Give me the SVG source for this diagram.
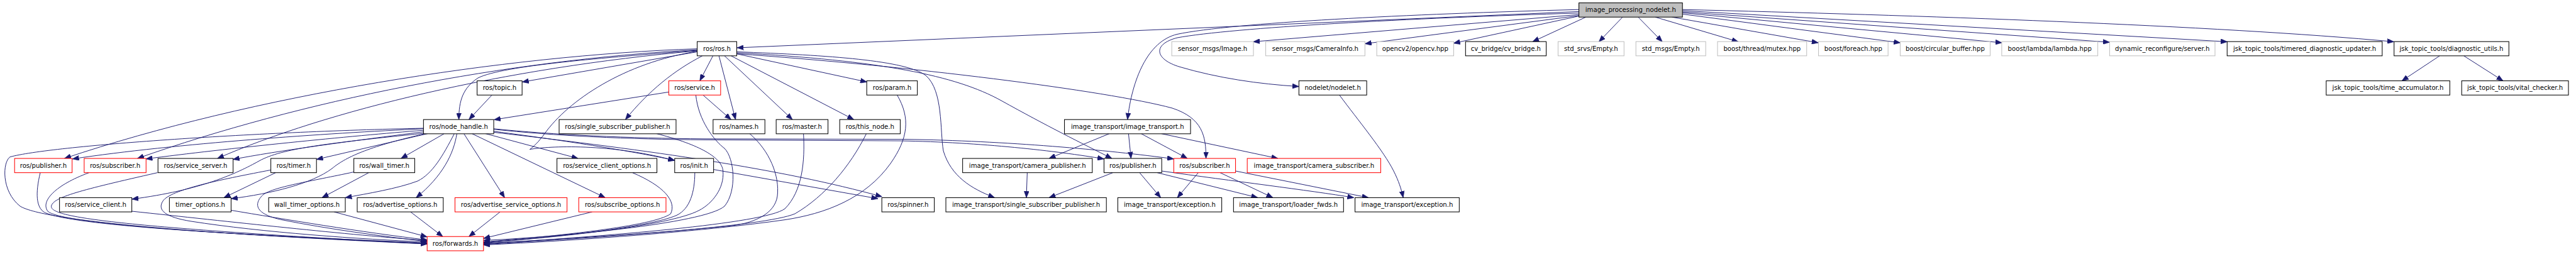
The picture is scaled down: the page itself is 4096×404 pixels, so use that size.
<svg xmlns="http://www.w3.org/2000/svg" width="4096" height="404" viewBox="0 0 4096 404">
<style>
.n rect{fill:#fff;stroke:#000;stroke-width:1.3}
.g rect{stroke:#bfbfbf}
.r rect{stroke:#ff0000}
.root rect{fill:#bfbfbf}
.n text{font-family:"DejaVu Sans",sans-serif;font-size:12.67px;text-anchor:middle;fill:#000}
.e path{fill:none;stroke:#191970;stroke-width:1.2;marker-end:url(#a)}
</style>
<defs>
<marker id="a" markerUnits="userSpaceOnUse" viewBox="0 0 13 10" markerWidth="13" markerHeight="10" refX="13" refY="5" orient="auto">
<path d="M0,0 L13,5 L0,10 z" fill="#191970" stroke="#191970" stroke-width="0.8"/>
</marker>
</defs>
<rect width="4096" height="404" fill="#fff"/>
<g transform="scale(0.8)">
<g id="edges" class="e">
<path d="M3138,23 L1465,95"/>
<path d="M3138,29 L2491,83"/>
<path d="M3138,31 L2713,87"/>
<path d="M3138,32 L2889,86"/>
<path d="M3152,34 L3046,83"/>
<path d="M3225,34 L3178,83"/>
<path d="M3256,34 L3304,83"/>
<path d="M3290,34 L3455,83"/>
<path d="M3323,34 L3614,85"/>
<path d="M3344,28 L3777,85"/>
<path d="M3344,25.5 L3979,85"/>
<path d="M3344,23.6 L4193,84"/>
<path d="M3344,21.2 L4427,83"/>
<path d="M3344,19 C3800,30 4400,50 4758,83"/>
<path d="M3138,19 C2800,28 2450,45 2340,68 C2280,82 2250,160 2241,237.7"/>
<path d="M3138,26 C2800,36 2450,55 2340,75 C2290,88 2295,118 2345,133 C2420,155 2500,167 2581.7,172"/>
<path d="M1386,97 C1000,110 500,190 128,315"/>
<path d="M1386,99 C1000,120 600,200 273,315"/>
<path d="M1386,101 C1000,135 650,220 432,315"/>
<path d="M1386,103 L1038,163"/>
<path d="M1386,100 C1200,115 1000,130 950,155 C920,175 912,200 912,237.7"/>
<path d="M1417,111 L1391,160.7"/>
<path d="M1396,111 C1340,140 1290,180 1243,237.7"/>
<path d="M1429,111 L1462,237.7"/>
<path d="M1440,111 L1575,237.7"/>
<path d="M1453,111 L1697,237.7"/>
<path d="M1464,107 L1723,163"/>
<path d="M1386,102 C1240,125 1130,200 1083,265 C1070,283 1060,292 1053,297 C1080,292 1200,282 1341,319"/>
<path d="M1464,105 C1750,120 1900,150 1990,200 C2080,250 2150,285 2210,315"/>
<path d="M1464,107 C1800,130 2200,180 2330,215 C2390,235 2397,270 2397,315"/>
<path d="M1464,103 C1650,110 1800,120 1840,150 C1875,180 1868,260 1875,300 C1890,350 1930,375 1977,393"/>
<path d="M1329,183 L982,238"/>
<path d="M1397,188.7 L1453,237.7"/>
<path d="M1383,188.7 C1388,240 1420,280 1440,295 C1460,315 1465,380 1440,410 C1400,445 1100,472 961,478"/>
<path d="M978,188.7 L932,237.7"/>
<path d="M842,256 C650,265 350,285 144,316"/>
<path d="M842,259 C700,270 450,295 290,316"/>
<path d="M842,262 C700,280 550,300 463,317"/>
<path d="M850,265.7 L629,317"/>
<path d="M883,265.7 L797,315"/>
<path d="M842,265 C650,285 560,295 515,320 C470,345 400,378 262,396"/>
<path d="M845,265.7 C740,290 690,310 660,335 C620,365 540,385 459.3,395"/>
<path d="M903,265.7 C880,310 860,345 830,360 C790,375 730,385 686.3,393"/>
<path d="M908,265.7 C902,305 880,350 827,393"/>
<path d="M922,265.7 L1003,393"/>
<path d="M938,265.7 L1203,393"/>
<path d="M965,265.7 L1149,315"/>
<path d="M981,261 C1150,283 1280,305 1341,319"/>
<path d="M981,263 C1300,300 1550,335 1753,391"/>
<path d="M981,257 C1100,270 1250,277 1400,278 L1790,280 C1950,283 2100,300 2194.3,316"/>
<path d="M981,256 C1100,268 1250,275 1400,276 L1800,277 C2000,280 2200,298 2333,316"/>
<path d="M842,255 C500,262 100,290 20,312 C5,322 2,380 40,410 C90,440 400,465 849,485"/>
<path d="M548,343.3 L445,393"/>
<path d="M538,338 C450,355 345,375 325,398 C310,418 330,432 380,440 C520,462 720,476 849,481"/>
<path d="M733,343.3 L640,393"/>
<path d="M703,342 C620,360 540,372 522,388 C505,405 505,425 560,437 C650,455 760,470 849,480"/>
<path d="M80,343.3 C70,385 72,412 88,422 C140,448 450,466 849,483"/>
<path d="M177,343.3 C110,368 80,400 95,420 C120,445 450,467 849,484"/>
<path d="M313,343.3 C160,378 105,392 102,410 C100,430 200,450 849,485"/>
<path d="M262,420 C450,440 700,468 849,478"/>
<path d="M459,418 C560,435 720,462 849,477"/>
<path d="M664,421.3 L849,471"/>
<path d="M816,421.3 L880,470.3"/>
<path d="M994,421.3 L932,470.3"/>
<path d="M1177,421.3 L961,474"/>
<path d="M1257,343.3 C1320,370 1345,400 1333,425 C1300,450 1100,470 961,481"/>
<path d="M1381,343.3 C1381,380 1372,415 1345,428 C1290,452 1100,472 961,482"/>
<path d="M1305,265.7 C1380,285 1435,310 1437,340 C1440,375 1415,405 1390,418 C1330,450 1100,472 961,483"/>
<path d="M1490,265.7 C1530,300 1550,350 1545,390 C1540,425 1500,442 1460,448 C1300,465 1100,476 961,484"/>
<path d="M1597,265.7 C1600,320 1595,380 1560,415 C1520,445 1200,470 961,485"/>
<path d="M1722,265.7 C1690,330 1640,390 1580,425 C1520,450 1200,472 961,486"/>
<path d="M1783,188.7 C1810,235 1805,275 1770,325 C1720,395 1640,425 1560,437 C1400,460 1150,478 961,487"/>
<path d="M1418.3,337 L1745,395"/>
<path d="M2205,265.7 L2085,315"/>
<path d="M2243,265.7 L2248,315"/>
<path d="M2268,265.7 L2360,315"/>
<path d="M2308,265.7 L2540,315"/>
<path d="M2041.7,343.3 L2040,393"/>
<path d="M2212,343.3 L2085,393"/>
<path d="M2265,343.3 L2307,393"/>
<path d="M2300,343.3 L2500,393"/>
<path d="M2309,340 C2450,360 2600,378 2691,393"/>
<path d="M2381.7,343.3 L2340,393"/>
<path d="M2425,343.3 L2530,393"/>
<path d="M2455.7,340 L2720,393"/>
<path d="M2662,188.7 C2700,240 2750,300 2770,340 C2780,360 2785,375 2789,393"/>
<path d="M4849,111 L4774,160.7"/>
<path d="M4897,111 L4975,160.7"/>
</g>
<g id="n_root" class="n root"><rect x="3138.2" y="5.7" width="205.8" height="28.3"/><text x="3241.1" y="24.1">image_processing_nodelet.h</text></g>
<g id="n_ros" class="n"><rect x="1385.7" y="82.7" width="78.6" height="28.3"/><text x="1425" y="101.1">ros/ros.h</text></g>
<g id="n_img" class="n g"><rect x="2329" y="82.7" width="162.3" height="28.3"/><text x="2410.2" y="101.1">sensor_msgs/Image.h</text></g>
<g id="n_caminfo" class="n g"><rect x="2515.7" y="82.7" width="197.2" height="28.3"/><text x="2614.3" y="101.1">sensor_msgs/CameraInfo.h</text></g>
<g id="n_opencv" class="n g"><rect x="2736.4" y="82.7" width="152.9" height="28.3"/><text x="2812.9" y="101.1">opencv2/opencv.hpp</text></g>
<g id="n_cvb" class="n"><rect x="2912.9" y="82.7" width="160.3" height="28.3"/><text x="2993" y="101.1">cv_bridge/cv_bridge.h</text></g>
<g id="n_stdsrv" class="n g"><rect x="3096.8" y="82.7" width="131.1" height="28.3"/><text x="3162.4" y="101.1">std_srvs/Empty.h</text></g>
<g id="n_stdmsg" class="n g"><rect x="3251.5" y="82.7" width="138.7" height="28.3"/><text x="3320.9" y="101.1">std_msgs/Empty.h</text></g>
<g id="n_mutex" class="n g"><rect x="3413.7" y="82.7" width="177.2" height="28.3"/><text x="3502.3" y="101.1">boost/thread/mutex.hpp</text></g>
<g id="n_foreach" class="n g"><rect x="3614.4" y="82.7" width="138.3" height="28.3"/><text x="3683.6" y="101.1">boost/foreach.hpp</text></g>
<g id="n_circ" class="n g"><rect x="3776.8" y="82.7" width="178.8" height="28.3"/><text x="3866.2" y="101.1">boost/circular_buffer.hpp</text></g>
<g id="n_lambda" class="n g"><rect x="3978.6" y="82.7" width="190.9" height="28.3"/><text x="4074" y="101.1">boost/lambda/lambda.hpp</text></g>
<g id="n_dyn" class="n g"><rect x="4193" y="82.7" width="209.5" height="28.3"/><text x="4297.8" y="101.1">dynamic_reconfigure/server.h</text></g>
<g id="n_timered" class="n"><rect x="4426.6" y="82.7" width="308.2" height="28.3"/><text x="4580.7" y="101.1">jsk_topic_tools/timered_diagnostic_updater.h</text></g>
<g id="n_diag" class="n"><rect x="4758.4" y="82.7" width="228.2" height="28.3"/><text x="4872.5" y="101.1">jsk_topic_tools/diagnostic_utils.h</text></g>
<g id="n_topic" class="n"><rect x="948.3" y="160.7" width="89.4" height="28.3"/><text x="993" y="179.1">ros/topic.h</text></g>
<g id="n_service" class="n r"><rect x="1329.3" y="160.7" width="103" height="28.3"/><text x="1380.8" y="179.1">ros/service.h</text></g>
<g id="n_param" class="n"><rect x="1722.7" y="160.7" width="100.6" height="28.3"/><text x="1773" y="179.1">ros/param.h</text></g>
<g id="n_nodelet" class="n"><rect x="2581.7" y="160.7" width="134.7" height="28.3"/><text x="2649" y="179.1">nodelet/nodelet.h</text></g>
<g id="n_timeacc" class="n"><rect x="4623.5" y="160.7" width="245.7" height="28.3"/><text x="4746.3" y="179.1">jsk_topic_tools/time_accumulator.h</text></g>
<g id="n_vital" class="n"><rect x="4892.8" y="160.7" width="212.2" height="28.3"/><text x="4998.9" y="179.1">jsk_topic_tools/vital_checker.h</text></g>
<g id="n_nh" class="n"><rect x="841.7" y="237.7" width="139.6" height="28.3"/><text x="911.5" y="256.1">ros/node_handle.h</text></g>
<g id="n_ssp" class="n"><rect x="1111.3" y="237.7" width="232.4" height="28.3"/><text x="1227.5" y="256.1">ros/single_subscriber_publisher.h</text></g>
<g id="n_names" class="n"><rect x="1417.3" y="237.7" width="103" height="28.3"/><text x="1468.8" y="256.1">ros/names.h</text></g>
<g id="n_master" class="n"><rect x="1542.7" y="237.7" width="103" height="28.3"/><text x="1594.2" y="256.1">ros/master.h</text></g>
<g id="n_thisnode" class="n"><rect x="1669" y="237.7" width="120.3" height="28.3"/><text x="1729.2" y="256.1">ros/this_node.h</text></g>
<g id="n_it" class="n"><rect x="2115.7" y="237.7" width="250.6" height="28.3"/><text x="2241" y="256.1">image_transport/image_transport.h</text></g>
<g id="n_pubL" class="n r"><rect x="29" y="315" width="114.3" height="28.3"/><text x="86.2" y="333.4">ros/publisher.h</text></g>
<g id="n_subL" class="n r"><rect x="167.3" y="315" width="123" height="28.3"/><text x="228.8" y="333.4">ros/subscriber.h</text></g>
<g id="n_ssrv" class="n"><rect x="314" y="315" width="149.3" height="28.3"/><text x="388.7" y="333.4">ros/service_server.h</text></g>
<g id="n_timer" class="n"><rect x="538.3" y="315" width="90.7" height="28.3"/><text x="583.7" y="333.4">ros/timer.h</text></g>
<g id="n_wtimer" class="n"><rect x="703.3" y="315" width="121" height="28.3"/><text x="763.8" y="333.4">ros/wall_timer.h</text></g>
<g id="n_sco" class="n"><rect x="1107" y="315" width="198.7" height="28.3"/><text x="1206.4" y="333.4">ros/service_client_options.h</text></g>
<g id="n_init" class="n"><rect x="1341" y="315" width="77.3" height="28.3"/><text x="1379.7" y="333.4">ros/init.h</text></g>
<g id="n_campub" class="n"><rect x="1913.3" y="315" width="257.7" height="28.3"/><text x="2042.2" y="333.4">image_transport/camera_publisher.h</text></g>
<g id="n_pubM" class="n"><rect x="2194.3" y="315" width="114.7" height="28.3"/><text x="2251.7" y="333.4">ros/publisher.h</text></g>
<g id="n_subM" class="n r"><rect x="2333" y="315" width="122.7" height="28.3"/><text x="2394.4" y="333.4">ros/subscriber.h</text></g>
<g id="n_camsub" class="n r"><rect x="2479" y="315" width="265.3" height="28.3"/><text x="2611.7" y="333.4">image_transport/camera_subscriber.h</text></g>
<g id="n_sc" class="n"><rect x="118.3" y="393" width="143.7" height="28.3"/><text x="190.2" y="411.4">ros/service_client.h</text></g>
<g id="n_to" class="n"><rect x="336.7" y="393" width="122.6" height="28.3"/><text x="398" y="411.4">timer_options.h</text></g>
<g id="n_wto" class="n"><rect x="534" y="393" width="152.3" height="28.3"/><text x="610.2" y="411.4">wall_timer_options.h</text></g>
<g id="n_ao" class="n"><rect x="710" y="393" width="171" height="28.3"/><text x="795.5" y="411.4">ros/advertise_options.h</text></g>
<g id="n_aso" class="n r"><rect x="904.3" y="393" width="222.7" height="28.3"/><text x="1015.7" y="411.4">ros/advertise_service_options.h</text></g>
<g id="n_so" class="n r"><rect x="1150.3" y="393" width="173.4" height="28.3"/><text x="1237" y="411.4">ros/subscribe_options.h</text></g>
<g id="n_spin" class="n"><rect x="1752.7" y="393" width="104.3" height="28.3"/><text x="1804.9" y="411.4">ros/spinner.h</text></g>
<g id="n_itssp" class="n"><rect x="1880" y="393" width="319" height="28.3"/><text x="2039.5" y="411.4">image_transport/single_subscriber_publisher.h</text></g>
<g id="n_exc1" class="n"><rect x="2221.7" y="393" width="206.6" height="28.3"/><text x="2325" y="411.4">image_transport/exception.h</text></g>
<g id="n_loader" class="n"><rect x="2451.7" y="393" width="218.7" height="28.3"/><text x="2561" y="411.4">image_transport/loader_fwds.h</text></g>
<g id="n_exc2" class="n"><rect x="2693.2" y="393" width="207.2" height="28.3"/><text x="2796.8" y="411.4">image_transport/exception.h</text></g>
<g id="n_fwd" class="n r"><rect x="849" y="470.3" width="112" height="28.3"/><text x="905" y="488.7">ros/forwards.h</text></g>
</g>
</svg>
